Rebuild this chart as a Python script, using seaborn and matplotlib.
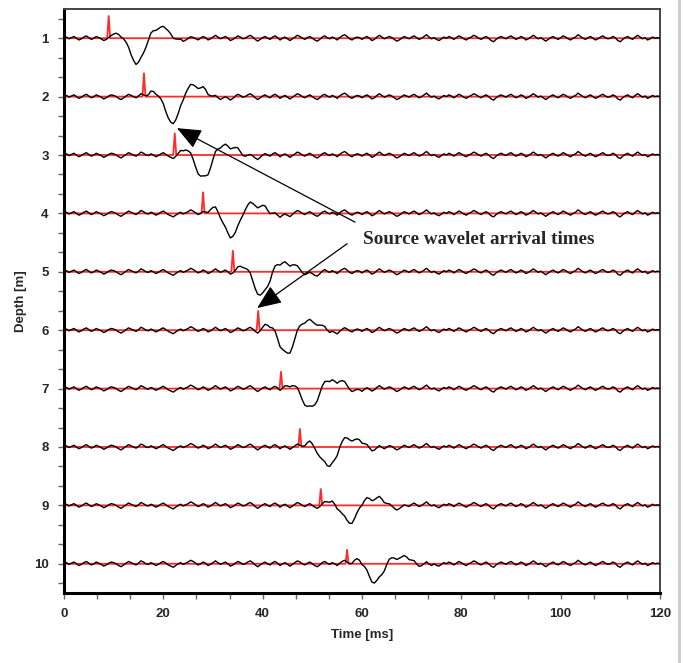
import numpy as np
import pandas as pd
import matplotlib
matplotlib.use('Agg')
import matplotlib.pyplot as plt
from matplotlib.lines import Line2D
from matplotlib.ticker import MultipleLocator, FixedLocator
import seaborn as sns

# Dữ liệu
depths = [1, 2, 3, 4, 5, 6, 7, 8, 9, 10]
arrival_ms = [9.0, 16.1, 22.3, 28.0, 34.0, 39.1, 43.7, 47.5, 51.7, 57.0]
# biên độ đáy sóng (m) và chiều cao gai đỏ (m) của từng vết
trough_amp = [0.43, 0.41, 0.39, 0.38, 0.38, 0.39, 0.33, 0.33, 0.30, 0.31]
spike_amp = [0.38, 0.40, 0.37, 0.36, 0.36, 0.33, 0.29, 0.31, 0.28, 0.24]

# hình dạng sóng nguồn (phần trăm của đáy), bước 0.5 ms sau thời điểm đến
wavelet_pct = [0, 4, 12, 20, 22, 16, 2, -18, -45, -70, -88, -100, -98, -88, -66,
               -36, -6, 16, 30, 38, 40, 40, 38, 36, 34, 26, 14, 4, -4, -8, -10,
               -10, -8, -8, -6, -4, -2, 0]

# nhiễu chung (phần trăm mét), bước 0.5 ms từ 0 đến 120 ms
noise_cm = [
    0, 2, -1, 1, 3, 0, -3, -1, 2, 4, 1, -2, 0, 3, 1, -1, -4, -2, 1, 3,
    2, 0, -3, -5, -2, 1, 4, 2, 0, -2, 1, 5, 3, 0, -1, 2, 0, -3, -1, 2,
    4, 1, -2, -4, -6, -3, 0, 2, -1, 1, 3, 6, 4, 1, -2, 0, 3, 1, -3, -1,
    2, 5, 2, -1, 1, 3, 0, -4, -2, 1, 4, 2, -1, 0, 3, 5, 2, -2, -5, -2,
    1, 3, 0, -2, 2, 4, 1, -3, 0, 2, -1, -4, -1, 2, 5, 3, 0, -2, 1, 3,
    0, -3, -5, -2, 2, 4, 1, -1, 2, 0, -3, 1, 4, 6, 3, -1, -3, 0, 2, 1,
    -2, 1, 3, 0, -4, -2, 2, 5, 2, -1, 1, 3, 1, -2, -5, -3, 0, 3, 1, -1,
    2, 4, 1, -2, 0, 3, 6, 2, -1, 1, -2, -4, -1, 2, 0, 3, 1, -2, 1, 4,
    2, -1, -3, 0, 2, 5, 3, 0, -2, 1, 3, 0, -4, -6, -2, 1, 3, 1, -1, 2,
    4, 1, -2, 0, 3, 1, -3, -1, 2, 5, 2, -1, 1, -2, -5, -2, 1, 3, 0, -2,
    1, 4, 2, -1, -3, 0, 2, 6, 3, 0, -2, 1, 3, 0, -3, -1, 2, 4, 1, -1,
    0, 3, 1, -4, -6, -2, 1, 3, 0, -2, 2, 5, 2, -1, 1, -3, -1, 2, 0, 1,
    0]

xticks = [0, 20, 40, 60, 80, 100, 120]

sns.set_style('ticks')
plt.rcParams['font.family'] = ['Liberation Sans', 'DejaVu Sans']

step = 0.5
t = np.arange(len(noise_cm)) * step
wav_t = np.arange(len(wavelet_pct)) * step
wav_v = np.array(wavelet_pct) / 100.0
noise = np.array(noise_cm) / 100.0

# bảng dữ liệu vết đen
rows = []
for i, d in enumerate(depths):
    w = np.interp(t - arrival_ms[i], wav_t, wav_v, left=0, right=0)
    y = d - (noise + trough_amp[i] * w)
    rows.append(pd.DataFrame({'time': t, 'y': y, 'trace': d}))
black = pd.concat(rows, ignore_index=True)

# bảng dữ liệu đường đỏ (gai tại thời điểm đến)
red_rows = []
for i, d in enumerate(depths):
    a = arrival_ms[i]
    red_rows.append(pd.DataFrame({'time': [0, a - 0.3, a, a + 0.3, 120],
                                  'y': [d, d, d - spike_amp[i], d, d],
                                  'trace': d}))
red = pd.concat(red_rows, ignore_index=True)

fig = plt.figure(figsize=(6.83, 6.63), dpi=100)
ax = fig.add_axes([0.0937, 0.1056, 0.8726, 0.8808])

sns.lineplot(data=red, x='time', y='y', units='trace', estimator=None, sort=False,
             color='#ff2a2a', lw=1.3, ax=ax, zorder=2)
sns.lineplot(data=black, x='time', y='y', units='trace', estimator=None, sort=False,
             color='black', lw=1.0, ax=ax, zorder=3)

ax.set_xlim(0, 120)
ax.set_ylim(10.5, 0.5)
ax.set_xticks(xticks)
ax.set_yticks(depths)
ax.xaxis.set_minor_locator(MultipleLocator(20 / 3))
ax.yaxis.set_minor_locator(FixedLocator([d + k / 3 for d in [0] + depths for k in (1, 2)
                                         if 0.5 < d + k / 3 < 10.5]))
ax.tick_params(which='both', length=4, width=1, color='#666666', pad=7,
               labelsize=9.5)
for lab in ax.get_xticklabels() + ax.get_yticklabels():
    lab.set_fontweight('bold')

ax.set_xlabel('Time [ms]', fontsize=9.5, fontweight='bold', labelpad=6)
ax.set_ylabel('Depth [m]', fontsize=9.5, fontweight='bold', labelpad=5)

for s in ['left', 'bottom']:
    ax.spines[s].set_linewidth(2.2)
    ax.spines[s].set_color('black')
for s in ['top', 'right']:
    ax.spines[s].set_visible(True)
    ax.spines[s].set_linewidth(1.4)
    ax.spines[s].set_color('#444444')

# chú thích và mũi tên
arrow = dict(arrowstyle='-|>,head_length=1.0,head_width=0.42', mutation_scale=15,
             color='black', lw=0.9, shrinkA=0, shrinkB=0)
ax.annotate('', xy=(22.75, 2.54), xytext=(58.6, 4.15), arrowprops=arrow, zorder=5)
ax.annotate('', xy=(38.9, 5.62), xytext=(57.0, 4.52), arrowprops=arrow, zorder=5)
ax.text(60.2, 4.44, 'Source wavelet arrival times', fontsize=13.8, fontweight='bold',
        family=['Liberation Serif', 'DejaVu Serif'], va='center', ha='left', zorder=5)

fig.add_artist(Line2D([679 / 683, 679 / 683], [0, 1], transform=fig.transFigure,
                      color='#cccccc', lw=2))

fig.savefig('out.png', dpi=100)
